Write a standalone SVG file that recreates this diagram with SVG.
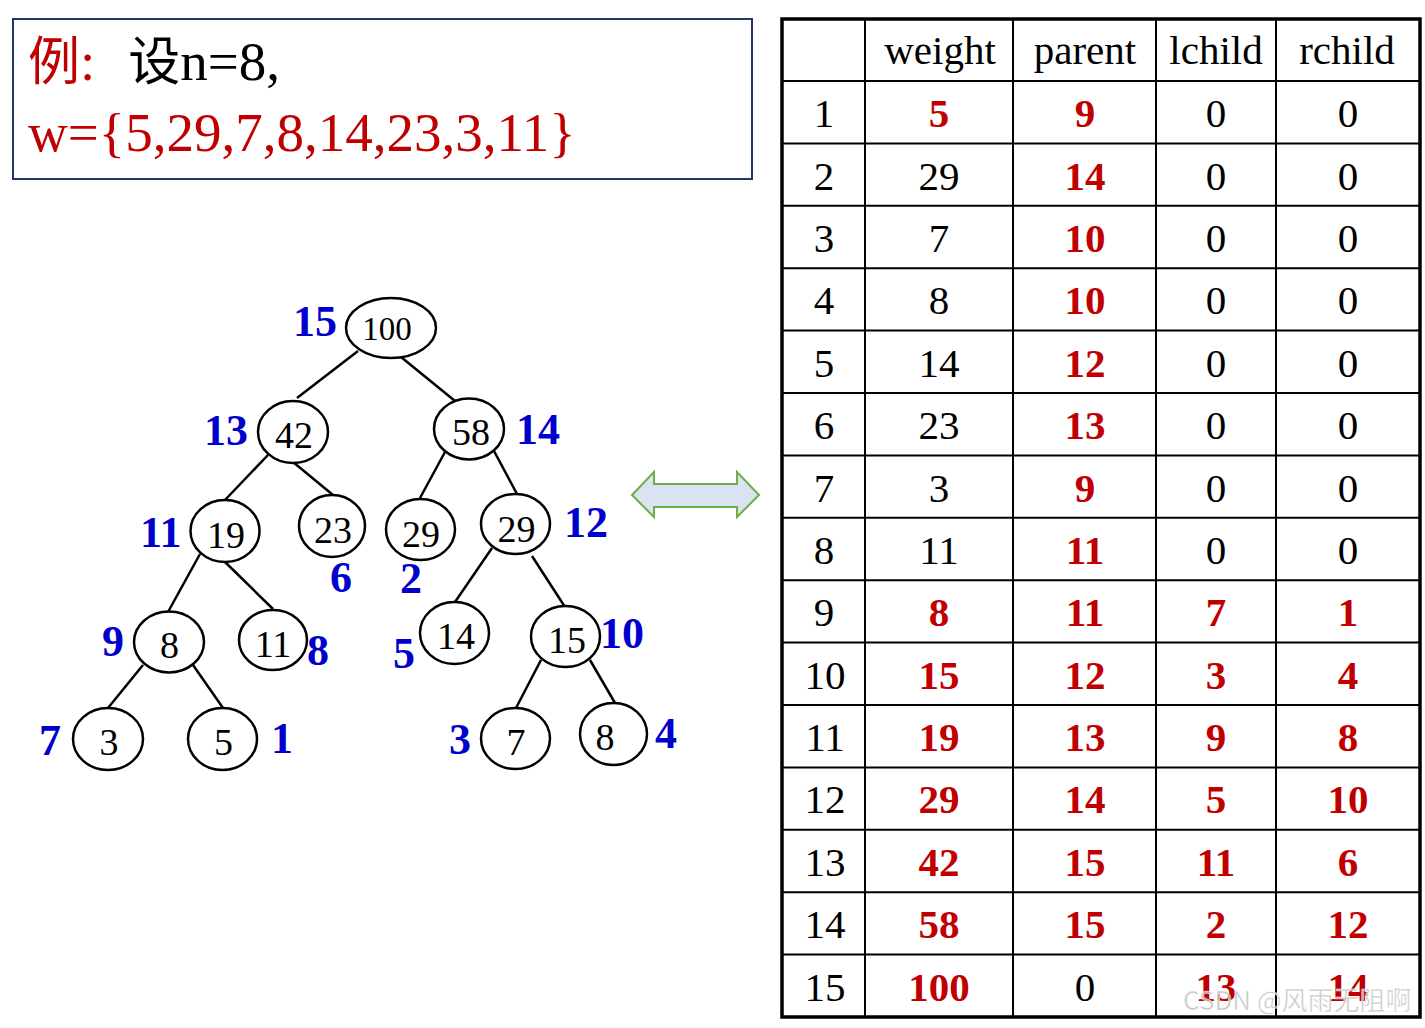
<svg xmlns="http://www.w3.org/2000/svg" width="1425" height="1028" viewBox="0 0 1425 1028">
<style>
.bg{fill:#ffffff}
.nd{fill:#ffffff;stroke:#000;stroke-width:2.5}
.nt{font-family:"Liberation Serif","Times New Roman",serif;font-size:38px;fill:#000;text-anchor:middle}
.lb{font-family:"Liberation Serif","Times New Roman",serif;font-size:44px;font-weight:bold;fill:#0000cc}
.cn line{stroke:#000;stroke-width:2.5}
.tb{font-family:"Liberation Serif","Times New Roman",serif;font-size:41px;fill:#000;text-anchor:middle}
.r{fill:#c00000;font-weight:bold}
.grid line{stroke:#000;stroke-width:2}
.box{font-family:"Liberation Serif","Times New Roman","Noto Sans CJK SC",serif;font-size:55px}
.cjk{font-family:"Noto Sans CJK SC","Noto Sans CJK JP",sans-serif;font-size:52px}
</style>
<rect class="bg" x="0" y="0" width="1425" height="1028"/>

<g id="example">
<rect x="13" y="19" width="739" height="160" fill="#fff" stroke="#1f3864" stroke-width="2"/>
<text class="box" x="28" y="80"><tspan class="cjk" fill="#c00000">例</tspan><tspan fill="#c00000">:</tspan><tspan class="cjk" fill="#000" dx="33">设</tspan><tspan fill="#000">n=8,</tspan></text>
<text class="box" x="28" y="151" fill="#c00000">w={5,29,7,8,14,23,3,11}</text>
</g>

<g id="connectors" class="cn">
<line x1="358" y1="351" x2="297" y2="398"/>
<line x1="401" y1="357" x2="455" y2="401"/>
<line x1="268" y1="455" x2="225" y2="500"/>
<line x1="293" y1="462" x2="333" y2="495"/>
<line x1="445" y1="452" x2="420" y2="498"/>
<line x1="494" y1="451" x2="517" y2="494"/>
<line x1="200" y1="554" x2="168" y2="612"/>
<line x1="225" y1="562" x2="273" y2="609"/>
<line x1="492" y1="548" x2="455" y2="602"/>
<line x1="532" y1="556" x2="565" y2="607"/>
<line x1="143" y1="665" x2="108" y2="708"/>
<line x1="193" y1="665" x2="223" y2="708"/>
<line x1="541" y1="660" x2="516" y2="708"/>
<line x1="590" y1="660" x2="615" y2="703"/>
</g>

<g id="node15"><ellipse class="nd" cx="391" cy="328" rx="45" ry="30"/><text class="nt" x="387" y="340" style="font-size:33px">100</text><text class="lb" x="293" y="336">15</text></g>
<g id="node13"><ellipse class="nd" cx="293" cy="432" rx="35" ry="31"/><text class="nt" x="294" y="448">42</text><text class="lb" x="204" y="445">13</text></g>
<g id="node14"><ellipse class="nd" cx="469" cy="429" rx="35" ry="30.5"/><text class="nt" x="471" y="445">58</text><text class="lb" x="516" y="444">14</text></g>
<g id="node11"><ellipse class="nd" cx="225" cy="531" rx="34.5" ry="31"/><text class="nt" x="226" y="548">19</text><text class="lb" x="140" y="547">11</text></g>
<g id="node6"><ellipse class="nd" cx="332" cy="526" rx="33" ry="31"/><text class="nt" x="333" y="543">23</text><text class="lb" x="330" y="592">6</text></g>
<g id="node2"><ellipse class="nd" cx="420.5" cy="529.5" rx="34.5" ry="30.5"/><text class="nt" x="421" y="547">29</text><text class="lb" x="400" y="593">2</text></g>
<g id="node12"><ellipse class="nd" cx="515.5" cy="524" rx="34.5" ry="30"/><text class="nt" x="516.5" y="542">29</text><text class="lb" x="564" y="537">12</text></g>
<g id="node9"><ellipse class="nd" cx="169" cy="642" rx="35" ry="30.5"/><text class="nt" x="169.5" y="658">8</text><text class="lb" x="102" y="656">9</text></g>
<g id="node8"><ellipse class="nd" cx="273" cy="640" rx="34" ry="30"/><text class="nt" x="273" y="657">11</text><text class="lb" x="307" y="665">8</text></g>
<g id="node5"><ellipse class="nd" cx="454.5" cy="633" rx="34.5" ry="31"/><text class="nt" x="456" y="649">14</text><text class="lb" x="393" y="668">5</text></g>
<g id="node10"><ellipse class="nd" cx="565.5" cy="636.5" rx="34.5" ry="30.5"/><text class="nt" x="567" y="653">15</text><text class="lb" x="600" y="648">10</text></g>
<g id="node7"><ellipse class="nd" cx="108" cy="739" rx="35" ry="31"/><text class="nt" x="109" y="755">3</text><text class="lb" x="39" y="755">7</text></g>
<g id="node1"><ellipse class="nd" cx="222.5" cy="739" rx="34.5" ry="31"/><text class="nt" x="223.5" y="755">5</text><text class="lb" x="271" y="753">1</text></g>
<g id="node3"><ellipse class="nd" cx="515.5" cy="738.5" rx="34.5" ry="30.5"/><text class="nt" x="516" y="755">7</text><text class="lb" x="449" y="754">3</text></g>
<g id="node4"><ellipse class="nd" cx="613.5" cy="734" rx="33.5" ry="31"/><text class="nt" x="605" y="750">8</text><text class="lb" x="655" y="748">4</text></g>

<g id="double-arrow">
<polygon points="632,495 654,472 654,484 737,484 737,472 759,495 737,517 737,507 654,507 654,517" fill="#dae3f3" stroke="#70ad47" stroke-width="2"/>
</g>

<g id="table">
<g class="grid">
<line x1="865" y1="19" x2="865" y2="1017"/>
<line x1="1013" y1="19" x2="1013" y2="1017"/>
<line x1="1156" y1="19" x2="1156" y2="1017"/>
<line x1="1276" y1="19" x2="1276" y2="1017"/>
<line x1="782" y1="81" x2="1420" y2="81"/>
<line x1="782" y1="143.4" x2="1420" y2="143.4"/>
<line x1="782" y1="205.8" x2="1420" y2="205.8"/>
<line x1="782" y1="268.2" x2="1420" y2="268.2"/>
<line x1="782" y1="330.6" x2="1420" y2="330.6"/>
<line x1="782" y1="393" x2="1420" y2="393"/>
<line x1="782" y1="455.4" x2="1420" y2="455.4"/>
<line x1="782" y1="517.8" x2="1420" y2="517.8"/>
<line x1="782" y1="580.2" x2="1420" y2="580.2"/>
<line x1="782" y1="642.6" x2="1420" y2="642.6"/>
<line x1="782" y1="705" x2="1420" y2="705"/>
<line x1="782" y1="767.4" x2="1420" y2="767.4"/>
<line x1="782" y1="829.8" x2="1420" y2="829.8"/>
<line x1="782" y1="892.2" x2="1420" y2="892.2"/>
<line x1="782" y1="954.6" x2="1420" y2="954.6"/>
</g>
<rect x="782" y="19" width="638" height="998" fill="none" stroke="#000" stroke-width="3.5"/>
<g class="tb">
<text x="940" y="64">weight</text><text x="1085" y="64">parent</text><text x="1216" y="64">lchild</text><text x="1347" y="64">rchild</text>
<text x="824" y="127">1</text><text x="939" y="127" class="r">5</text><text x="1085" y="127" class="r">9</text><text x="1216" y="127">0</text><text x="1348" y="127">0</text>
<text x="824" y="190">2</text><text x="939" y="190">29</text><text x="1085" y="190" class="r">14</text><text x="1216" y="190">0</text><text x="1348" y="190">0</text>
<text x="824" y="252">3</text><text x="939" y="252">7</text><text x="1085" y="252" class="r">10</text><text x="1216" y="252">0</text><text x="1348" y="252">0</text>
<text x="824" y="314">4</text><text x="939" y="314">8</text><text x="1085" y="314" class="r">10</text><text x="1216" y="314">0</text><text x="1348" y="314">0</text>
<text x="824" y="377">5</text><text x="939" y="377">14</text><text x="1085" y="377" class="r">12</text><text x="1216" y="377">0</text><text x="1348" y="377">0</text>
<text x="824" y="439">6</text><text x="939" y="439">23</text><text x="1085" y="439" class="r">13</text><text x="1216" y="439">0</text><text x="1348" y="439">0</text>
<text x="824" y="502">7</text><text x="939" y="502">3</text><text x="1085" y="502" class="r">9</text><text x="1216" y="502">0</text><text x="1348" y="502">0</text>
<text x="824" y="564">8</text><text x="939" y="564">11</text><text x="1085" y="564" class="r">11</text><text x="1216" y="564">0</text><text x="1348" y="564">0</text>
<text x="824" y="626">9</text><text x="939" y="626" class="r">8</text><text x="1085" y="626" class="r">11</text><text x="1216" y="626" class="r">7</text><text x="1348" y="626" class="r">1</text>
<text x="825" y="689">10</text><text x="939" y="689" class="r">15</text><text x="1085" y="689" class="r">12</text><text x="1216" y="689" class="r">3</text><text x="1348" y="689" class="r">4</text>
<text x="825" y="751">11</text><text x="939" y="751" class="r">19</text><text x="1085" y="751" class="r">13</text><text x="1216" y="751" class="r">9</text><text x="1348" y="751" class="r">8</text>
<text x="825" y="813">12</text><text x="939" y="813" class="r">29</text><text x="1085" y="813" class="r">14</text><text x="1216" y="813" class="r">5</text><text x="1348" y="813" class="r">10</text>
<text x="825" y="876">13</text><text x="939" y="876" class="r">42</text><text x="1085" y="876" class="r">15</text><text x="1216" y="876" class="r">11</text><text x="1348" y="876" class="r">6</text>
<text x="825" y="938">14</text><text x="939" y="938" class="r">58</text><text x="1085" y="938" class="r">15</text><text x="1216" y="938" class="r">2</text><text x="1348" y="938" class="r">12</text>
<text x="825" y="1001">15</text><text x="939" y="1001" class="r">100</text><text x="1085" y="1001">0</text><text x="1216" y="1001" class="r">13</text><text x="1348" y="1001" class="r">14</text>
</g>
</g>

<text x="1183" y="1010" font-family="'Noto Sans CJK SC','Noto Sans',sans-serif" font-size="26px" fill="#bdbdbd" fill-opacity="0.85" stroke="#ffffff" stroke-width="0.6" stroke-opacity="0.8">CSDN @风雨无阻啊</text>
</svg>
